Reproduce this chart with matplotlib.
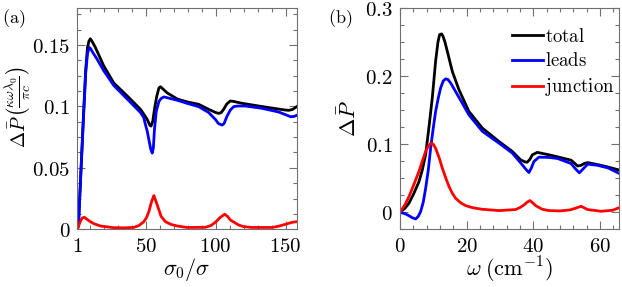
import matplotlib
matplotlib.use("Agg")
import matplotlib.pyplot as plt
from matplotlib.ticker import FixedLocator, FixedFormatter, MultipleLocator

plt.rcParams['mathtext.fontset'] = 'cm'

# ---- panel (a): power vs sigma0/sigma ----
a_total_x = [1, 1.8, 3.5, 5.5, 7.0, 8.3, 9.3, 10.3, 11.5, 13.9, 19.9, 27.1, 36.7, 46.2, 49.0, 51.0,
             53.0, 53.8, 55.0, 56.2, 57.8, 59.4, 60.5, 65.3, 72.5, 79.7, 87.8, 95.0, 100.0, 102.1,
             104.0, 105.7, 108.0, 110.5, 113.0, 118.9, 130.8, 142.8, 150.0, 152.4, 155.0, 158.0]
a_total_y = [0, 0.003, 0.045, 0.095, 0.130, 0.148, 0.153, 0.155, 0.153, 0.148, 0.133, 0.119, 0.1085,
             0.0976, 0.093, 0.0894, 0.0845, 0.084, 0.088, 0.0976, 0.108, 0.115, 0.116, 0.111, 0.106,
             0.1036, 0.1017, 0.0976, 0.095, 0.0943, 0.095, 0.0976, 0.102, 0.1044, 0.104, 0.1025,
             0.1003, 0.0982, 0.097, 0.0968, 0.0975, 0.0998]

a_leads_x = [1, 1.8, 3.5, 5.5, 7.0, 8.3, 9.5, 10.5, 12.0, 15.1, 19.9, 27.1, 36.7, 46.2, 48.5, 49.8,
             51.0, 52.2, 53.6, 54.6, 55.4, 56.2, 57.5, 59.4, 61.0, 63.0, 72.5, 79.5, 87.8, 95.0,
             99.8, 102.0, 104.6, 106.0, 108.2, 110.5, 112.9, 116.0, 121.3, 133.3, 145.2, 153.6,
             156.0, 158.0]
a_leads_y = [0, 0.003, 0.045, 0.093, 0.127, 0.143, 0.148, 0.147, 0.144, 0.1385, 0.129, 0.117, 0.106,
             0.095, 0.091, 0.085, 0.080, 0.073, 0.065, 0.062, 0.066, 0.081, 0.096, 0.104, 0.1065,
             0.1077, 0.105, 0.1025, 0.0998, 0.095, 0.0894, 0.086, 0.0848, 0.086, 0.0922, 0.097,
             0.0998, 0.1003, 0.1003, 0.0984, 0.0954, 0.0916, 0.0918, 0.0927]

a_junc_x = [1, 3.0, 4.5, 6.0, 7.5, 10.3, 13.0, 17.5, 27.1, 35.0, 41.5, 45.0, 48.6, 50.5, 52.2, 54.0,
            55.8, 57.5, 59.4, 61.0, 64.1, 68.0, 72.5, 79.7, 92.6, 96.5, 99.8, 103.4, 106.5, 108.5,
            110.5, 116.5, 120.0, 126.0, 140.5, 145.0, 150.0, 154.8, 158.0]
a_junc_y = [0, 0.006, 0.0092, 0.0098, 0.0085, 0.0062, 0.0045, 0.0027, 0.0013, 0.0012, 0.0016, 0.003,
            0.0062, 0.0095, 0.0144, 0.022, 0.0275, 0.022, 0.0158, 0.0105, 0.0062, 0.004, 0.0027,
            0.0015, 0.0016, 0.003, 0.0057, 0.0098, 0.0123, 0.0105, 0.0076, 0.0035, 0.0022, 0.0015,
            0.0015, 0.0025, 0.0041, 0.0057, 0.0062]

# ---- panel (b): power vs omega ----
b_total_x = [0, 1.5, 2.7, 4.2, 5.7, 6.7, 7.7, 8.7, 9.7, 10.7, 11.4, 11.9, 12.5, 12.9, 13.5, 14.2,
             15.7, 17.7, 20.7, 24.7, 29.7, 33.7, 36.2, 37.5, 38.2, 39.0, 39.7, 41.2, 44.7, 47.3,
             51.3, 53.3, 54.3, 55.3, 56.3, 59.3, 62.0, 65.8]
b_total_y = [0, 0.006, 0.0133, 0.028, 0.045, 0.062, 0.0844, 0.125, 0.168, 0.222, 0.250, 0.261, 0.262,
             0.2587, 0.250, 0.2366, 0.207, 0.180, 0.148, 0.1237, 0.104, 0.0894, 0.077, 0.074, 0.0736,
             0.078, 0.0844, 0.088, 0.0844, 0.0814, 0.0766, 0.068, 0.069, 0.0717, 0.073, 0.070,
             0.067, 0.062]

b_leads_x = [0, 1.5, 2.7, 3.7, 4.7, 5.5, 6.2, 7.0, 7.7, 8.5, 9.2, 10.0, 10.7, 11.5, 12.2, 13.0, 13.7,
             14.4, 15.2, 17.2, 20.7, 24.7, 29.7, 33.7, 36.7, 37.8, 38.7, 39.4, 40.2, 41.7, 44.7,
             47.3, 51.3, 52.8, 53.8, 54.8, 56.3, 59.3, 62.5, 65.8]
b_leads_y = [0, -0.002, -0.005, -0.008, -0.0098, -0.006, 0.001, 0.015, 0.035, 0.062, 0.094, 0.124,
             0.148, 0.168, 0.1826, 0.193, 0.196, 0.195, 0.19, 0.173, 0.143, 0.119, 0.1016, 0.087,
             0.0697, 0.063, 0.0584, 0.065, 0.0747, 0.081, 0.0806, 0.079, 0.0717, 0.063, 0.058,
             0.063, 0.0707, 0.069, 0.065, 0.057]

b_junc_x = [0, 1.5, 2.7, 4.2, 5.7, 6.7, 7.7, 8.6, 9.4, 10.0, 10.7, 11.7, 12.7, 13.7, 14.7, 15.7,
            16.7, 18.2, 19.7, 22.0, 24.7, 29.7, 34.7, 36.2, 37.2, 38.2, 39.0, 39.8, 40.7, 42.7,
            44.7, 48.0, 51.0, 52.3, 54.3, 55.3, 56.3, 60.3, 63.8, 65.8]
b_junc_y = [0, 0.011, 0.023, 0.041, 0.06, 0.075, 0.0894, 0.098, 0.1016, 0.100, 0.094, 0.081, 0.065,
            0.051, 0.038, 0.028, 0.0206, 0.014, 0.0098, 0.0065, 0.0044, 0.0025, 0.004, 0.0075,
            0.0108, 0.015, 0.0172, 0.014, 0.0098, 0.0044, 0.0025, 0.002, 0.0035, 0.0054, 0.0088,
            0.0065, 0.004, 0.0015, 0.003, 0.0069]

a_xticks = [1, 50, 100, 150]
a_yticks = [0, 0.05, 0.1, 0.15]
a_yticklabels = ['0', '0.05', '0.1', '0.15']
b_xticks = [0, 20, 40, 60]
b_yticks = [0, 0.1, 0.2, 0.3]
b_yticklabels = ['0', '0.1', '0.2', '0.3']

fig = plt.figure(figsize=(6.22, 2.87), dpi=100)
ax1 = fig.add_axes([0.1243, 0.201, 0.3527, 0.771])
ax2 = fig.add_axes([0.643, 0.201, 0.3527, 0.771])

lw = 2.0
ax1.plot(a_total_x, a_total_y, color='black', lw=lw)
ax1.plot(a_leads_x, a_leads_y, color='#0000ff', lw=lw)
ax1.plot(a_junc_x, a_junc_y, color='#ff0000', lw=lw)

ax2.plot(b_total_x, b_total_y, color='black', lw=lw, label=r'$\mathrm{total}$')
ax2.plot(b_leads_x, b_leads_y, color='#0000ff', lw=lw, label=r'$\mathrm{leads}$')
ax2.plot(b_junc_x, b_junc_y, color='#ff0000', lw=lw, label=r'$\mathrm{junction}$')

ax1.set_xlim(1, 158)
ax1.set_ylim(0, 0.18)
ax2.set_xlim(0, 65.8)
ax2.set_ylim(-0.025, 0.3)

ax1.xaxis.set_major_locator(FixedLocator(a_xticks))
ax1.xaxis.set_major_formatter(FixedFormatter(['$%d$' % t for t in a_xticks]))
ax1.xaxis.set_minor_locator(MultipleLocator(10))
ax1.yaxis.set_major_locator(FixedLocator(a_yticks))
ax1.yaxis.set_major_formatter(FixedFormatter(['$%s$' % t for t in a_yticklabels]))
ax1.yaxis.set_minor_locator(MultipleLocator(0.0125))

ax2.xaxis.set_major_locator(FixedLocator(b_xticks))
ax2.xaxis.set_major_formatter(FixedFormatter(['$%d$' % t for t in b_xticks]))
ax2.xaxis.set_minor_locator(MultipleLocator(4))
ax2.yaxis.set_major_locator(FixedLocator(b_yticks))
ax2.yaxis.set_major_formatter(FixedFormatter(['$%s$' % t for t in b_yticklabels]))
ax2.yaxis.set_minor_locator(MultipleLocator(0.025))

for ax in (ax1, ax2):
    for s in ax.spines.values():
        s.set_color('#707070')
        s.set_linewidth(0.8)
    ax.tick_params(which='both', direction='in', top=True, right=True, color='#707070',
                   labelsize=15, width=0.8)
    ax.tick_params(which='major', length=5.5, pad=5)
    ax.tick_params(which='minor', length=3)

ax1.set_xlabel(r'$\sigma_0/\sigma$', fontsize=16, labelpad=0)
ax1.set_ylabel(r'$\Delta\bar{P}\,\left(\frac{\kappa\omega\lambda_0}{\pi c}\right)$', fontsize=14, labelpad=0)
ax1.yaxis.set_label_coords(-0.2, 0.55)
ax2.set_xlabel(r'$\omega\;(\mathrm{cm}^{-1})$', fontsize=16, labelpad=-1)
ax2.set_ylabel(r'$\Delta\bar{P}$', fontsize=16, labelpad=4)

fig.text(0.003, 0.975, r'$\mathrm{(a)}$', fontsize=13, ha='left', va='top')
fig.text(0.527, 0.975, r'$\mathrm{(b)}$', fontsize=13, ha='left', va='top')

ax2.legend(loc='upper left', bbox_to_anchor=(0.51, 0.915), frameon=False, fontsize=13.5,
           handlelength=1.65, handletextpad=0.1, labelspacing=0.3, borderpad=0, borderaxespad=0)

fig.savefig('out.png', dpi=100)
